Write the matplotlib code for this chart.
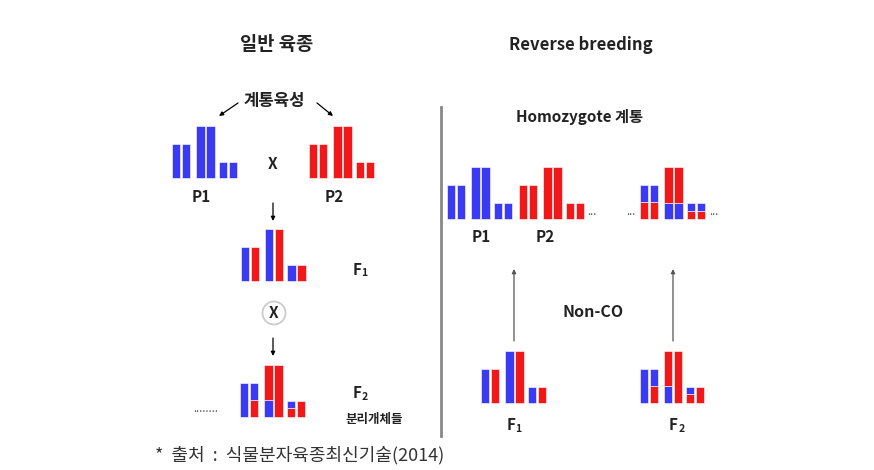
import matplotlib
matplotlib.use("Agg")
from matplotlib import pyplot as plt
from matplotlib.patches import Circle

plt.rcParams['font.family'] = ['Noto Sans CJK KR', 'DejaVu Sans']

# relative length of the three chromosome pairs
chromLen = [34, 52, 16]

# genotypes: 6 chromosomes (3 pairs), each a list of (allele, fraction) from top to bottom
p1 = [[('B', 1.0)]] * 6
p2 = [[('R', 1.0)]] * 6
f1 = [[('B', 1.0)], [('R', 1.0)]] * 3
f2 = [[('B', 1.0)], [('B', 0.5), ('R', 0.5)],
      [('R', 0.68), ('B', 0.32)], [('R', 1.0)],
      [('B', 0.45), ('R', 0.55)], [('R', 1.0)]]
recomb = [[('B', 0.5), ('R', 0.5)], [('B', 0.5), ('R', 0.5)],
          [('R', 0.69), ('B', 0.31)], [('R', 0.69), ('B', 0.31)],
          [('B', 0.5), ('R', 0.5)], [('B', 0.5), ('R', 0.5)]]

alleleColors = {'B': '#3a3af2', 'R': '#f01818'}

# layout (pixel space of the figure)
pairOffsets = [0, 24.3, 46.6]
barOffset = 10
barWidth = 8.3

fig = plt.figure(figsize=(8.74, 4.70), dpi=100)
ax = fig.add_axes([0, 0, 1, 1])
ax.set_xlim(0, 874)
ax.set_ylim(470, 0)
ax.axis('off')


def drawGenotype(ax, genotype, x0, base):
    for i, segments in enumerate(genotype):
        pair = i // 2
        x = x0 + pairOffsets[pair] + (i % 2) * barOffset
        total = chromLen[pair]
        bottom = base
        for allele, frac in reversed(segments):
            h = total * frac
            ax.bar(x, h, bottom=bottom - h, width=barWidth, align='edge',
                   color=alleleColors[allele], edgecolor='#ffffff', linewidth=0.4)
            bottom -= h


def arrow(ax, start, end, color='k'):
    ax.annotate('', xy=end, xytext=start,
                arrowprops=dict(arrowstyle='-|>', color=color, lw=0.9,
                                mutation_scale=6, shrinkA=0, shrinkB=0))


def label(ax, x, y, s, size=10, weight='bold', **kw):
    ax.text(x, y, s, fontsize=size, fontweight=weight, ha='center', va='center',
            color='#222222', **kw)


def fLabel(ax, x, y, n):
    ax.text(x, y, 'F', fontsize=11, fontweight='bold', ha='right', va='center', color='#222222')
    ax.text(x + 0.5, y + 3.5, n, fontsize=7.5, fontweight='bold', ha='left', va='center', color='#222222')


# ---- left: conventional breeding ----
label(ax, 277, 45, '일반 육종', size=13.5)
label(ax, 274, 101, '계통육성', size=12)
arrow(ax, (238, 103), (219, 116))
arrow(ax, (317, 103), (333, 116))

drawGenotype(ax, p1, 172, 178)
drawGenotype(ax, p2, 309, 178)
label(ax, 273, 164, 'X', size=11)
label(ax, 201, 197, 'P1', size=11)
label(ax, 334, 197, 'P2', size=11)

arrow(ax, (273, 203), (273, 221))
drawGenotype(ax, f1, 240.7, 281)
fLabel(ax, 361, 270, '1')

ax.add_patch(Circle((274, 313), 11.5, facecolor='white', edgecolor='#cccccc', lw=1.3))
label(ax, 274, 313, 'X', size=11)

arrow(ax, (273, 338), (273, 356))
drawGenotype(ax, f2, 240, 417)
fLabel(ax, 361, 393, '2')
label(ax, 374, 420, '분리개체들', size=9)
ax.text(206, 409, '........', fontsize=8, ha='center', va='center', color='#555555')

# divider
ax.plot([441, 441], [107, 436], color='#888888', lw=2)

# ---- right: reverse breeding ----
label(ax, 581, 45, 'Reverse breeding', size=12)
label(ax, 580, 117, 'Homozygote 계통', size=11)

drawGenotype(ax, p1, 447, 219)
drawGenotype(ax, p2, 519, 219)
drawGenotype(ax, recomb, 640, 219)
for dx in [592, 631, 714]:
    ax.text(dx, 212, '...', fontsize=8, ha='center', va='center', color='#555555')
label(ax, 481, 237, 'P1', size=11)
label(ax, 545, 237, 'P2', size=11)

arrow(ax, (514, 341), (514, 269), color='#555555')
arrow(ax, (673, 341), (673, 269), color='#555555')
label(ax, 593, 312, 'Non-CO', size=11.5)

drawGenotype(ax, f1, 481, 403)
drawGenotype(ax, f2, 639.5, 403)
fLabel(ax, 515, 425, '1')
fLabel(ax, 678, 425, '2')

ax.text(155, 455, '*  출처  :  식물분자육종최신기술(2014)', fontsize=13, ha='left',
        va='center', color='#333333')

fig.savefig('out.png', dpi=100)
